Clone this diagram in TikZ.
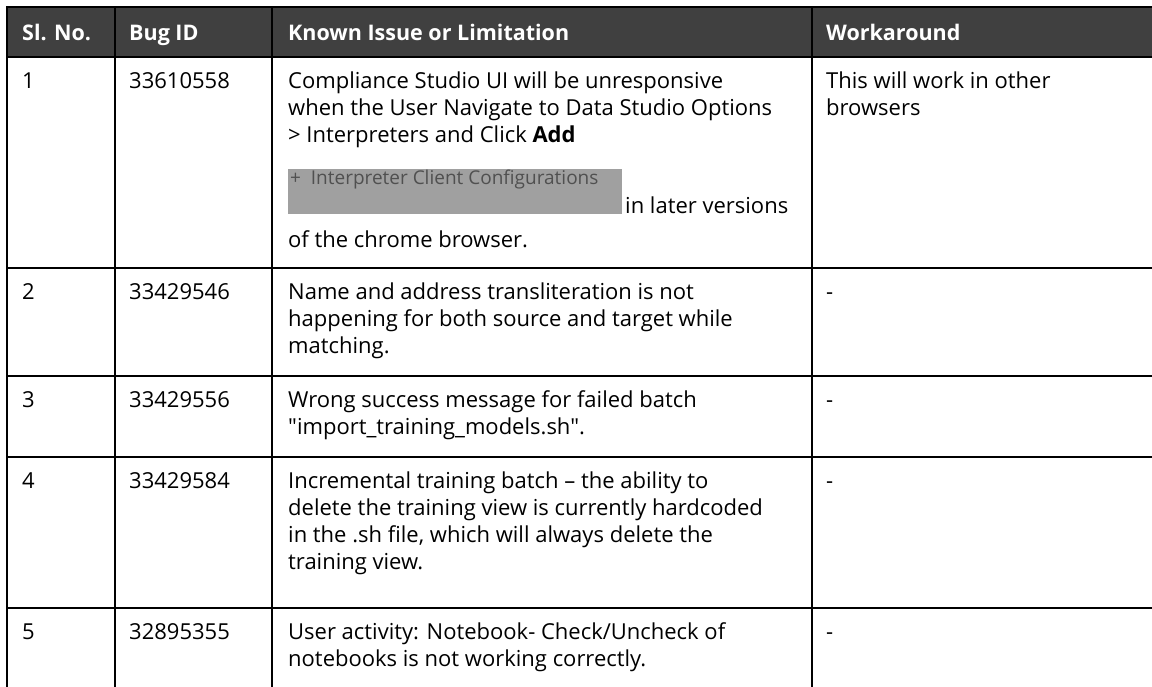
\documentclass[tikz,border=0pt]{standalone}
\usepackage{fontspec}
\setmainfont{Open Sans}
\newfontfamily\plainfont{Open Sans}
\usetikzlibrary{positioning}

\definecolor{headgray}{HTML}{404040}
\definecolor{btngray}{HTML}{A0A0A0}
\definecolor{btntext}{HTML}{505050}

\begin{document}
\begin{tikzpicture}[
		x=1pt, y=-1pt,
		grid/.style={line width=2pt, black},
		cell/.style={anchor=base west, inner sep=0pt, font=\fontsize{22}{27}\selectfont},
		headcell/.style={cell, text=white, font=\fontsize{21.5}{27}\selectfont\bfseries}
	]
		\useasboundingbox (0,0) rectangle (1152,686);

		% Header band
		\fill[headgray] (7,7) rectangle (1160,57);

		% Rules
		\draw[grid] (1160,7) -- (7,7) -- (7,690);
		\foreach \y in {57,268,376,457,608}
			\draw[grid] (7,\y) -- (1160,\y);
		\foreach \x in {115,272,812}
			\draw[grid] (\x,7) -- (\x,690);

		% Header
		\node[headcell] (hno) at (22,40) {Sl. No.};
		\node[headcell] (hid) at (129,40) {Bug ID};
		\node[headcell] (hissue) at (288,40) {Known Issue or Limitation};
		\node[headcell] (hwork) at (826,40) {Workaround};

		% Row 1
		\node[cell] (no1) at (22,88) {1};
		\node[cell] (id1) at (129,88) {33610558};
		\node[cell] (is1a) at (288,88) {Compliance Studio UI will be unresponsive};
		\node[cell] (is1b) at (288,115) {when the User Navigate to Data Studio Options};
		\node[cell] (is1c) at (288,142) {> Interpreters and Click \textbf{Add}};
		\fill[btngray] (288,169) rectangle (622,214);
		\node[cell, text=btntext, font=\fontsize{19}{24}\selectfont] (btn) at (290,184) {+\ \ Interpreter Client Configurations};
		\node[cell] (is1d) at (625,213) {in later versions};
		\node[cell] (is1e) at (288,247) {of the chrome browser.};
		\node[cell] (wk1a) at (826,88) {This will work in other};
		\node[cell] (wk1b) at (826,115) {browsers};

		% Row 2
		\node[cell] (no2) at (22,299) {2};
		\node[cell] (id2) at (129,299) {33429546};
		\node[cell] (is2a) at (288,299) {Name and address transliteration is not};
		\node[cell] (is2b) at (288,326) {happening for both source and target while};
		\node[cell] (is2c) at (288,353) {matching.};
		\node[cell] (wk2) at (826,299) {-};

		% Row 3
		\node[cell] (no3) at (22,407) {3};
		\node[cell] (id3) at (129,407) {33429556};
		\node[cell] (is3a) at (288,407) {Wrong success message for failed batch};
		\node[cell] (is3b) at (288,434) {\plainfont "import\_training\_models.sh".};
		\node[cell] (wk3) at (826,407) {-};

		% Row 4
		\node[cell] (no4) at (22,488) {4};
		\node[cell] (id4) at (129,488) {33429584};
		\node[cell] (is4a) at (288,488) {Incremental training batch -- the ability to};
		\node[cell] (is4b) at (288,515) {delete the training view is currently hardcoded};
		\node[cell] (is4c) at (288,542) {in the .sh file, which will always delete the};
		\node[cell] (is4d) at (288,569) {training view.};
		\node[cell] (wk4) at (826,488) {-};

		% Row 5
		\node[cell] (no5) at (22,639) {5};
		\node[cell] (id5) at (129,639) {32895355};
		\node[cell] (is5a) at (288,639) {User activity: Notebook- Check/Uncheck of};
		\node[cell] (is5b) at (288,666) {notebooks is not working correctly.};
		\node[cell] (wk5) at (826,639) {-};
\end{tikzpicture}
\end{document}
